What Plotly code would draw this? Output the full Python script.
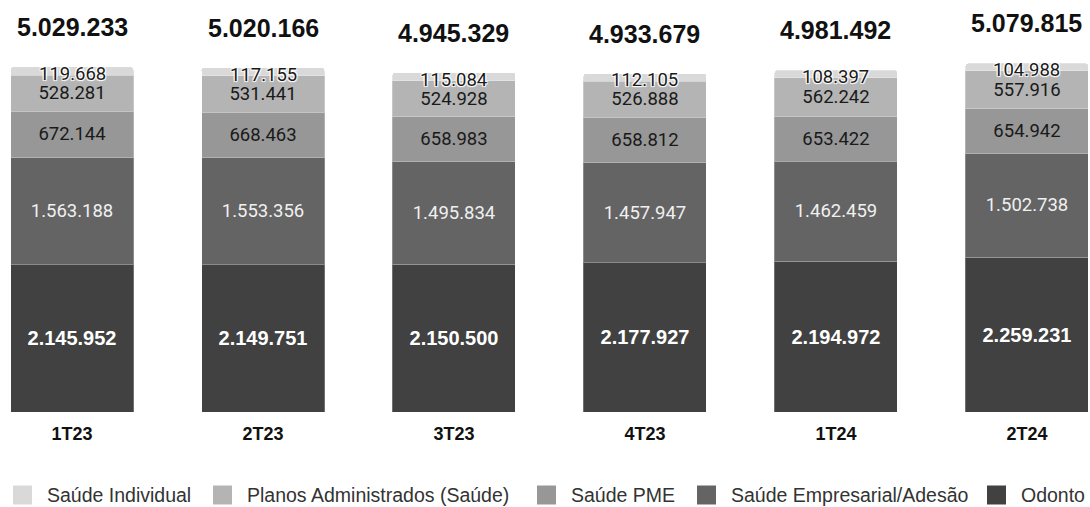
import plotly.graph_objects as go

# Beneficiários por trimestre e por segmento
periodos = ["1T23", "2T23", "3T23", "4T23", "1T24", "2T24"]
odonto = [2145952, 2149751, 2150500, 2177927, 2194972, 2259231]
saude_empresarial = [1563188, 1553356, 1495834, 1457947, 1462459, 1502738]
saude_pme = [672144, 668463, 658983, 658812, 653422, 654942]
planos_administrados = [528281, 531441, 524928, 526888, 562242, 557916]
saude_individual = [119668, 117155, 115084, 112105, 108397, 104988]
totais = [5029233, 5020166, 4945329, 4933679, 4981492, 5079815]

nomes = ["Odonto", "Saúde Empresarial/Adesão", "Saúde PME",
         "Planos Administrados (Saúde)", "Saúde Individual"]
valores_series = [odonto, saude_empresarial, saude_pme, planos_administrados, saude_individual]
cores = ["#414141", "#646464", "#979797", "#b4b4b4", "#d9d9d9"]

halo = ("1px 1px 1px white, -1px -1px 1px white, "
        "1px -1px 1px white, -1px 1px 1px white")
fontes = [
    dict(family="Liberation Sans", size=20, color="white", weight="bold"),
    dict(family="Roboto", size=18.5, color="#f0f0f0"),
    dict(family="Roboto", size=18.5, color="#1a1a1a"),
    dict(family="Roboto", size=18.5, color="#1a1a1a"),
    dict(family="Roboto", size=18.5, color="#1a1a1a", shadow=halo),
]

fig = go.Figure()
for nome, valores, cor, fonte in zip(nomes, valores_series, cores, fontes):
    topo = nome == "Saúde Individual"
    fig.add_trace(go.Bar(
        name=nome,
        x=periodos,
        y=valores,
        marker=dict(color=cor, line=dict(color="rgba(255,255,255,0.25)", width=1)),
        texttemplate="%{y:,}",
        textposition="none" if topo else "inside",
        insidetextanchor="middle",
        constraintext="none",
        textangle=0,
        textfont=fonte,
        hoverinfo="skip",
        showlegend=False,
    ))

# Rótulos do segmento do topo (faixa estreita), centrados na faixa
base_topo = [a + b + c + d for a, b, c, d in
             zip(odonto, saude_empresarial, saude_pme, planos_administrados)]
for p, b, v in zip(periodos, base_topo, saude_individual):
    fig.add_annotation(
        x=p, y=b + v / 2, text=f"{v:,}".replace(",", "."),
        showarrow=False, yanchor="middle", yshift=-3,
        font=fontes[4],
    )

# Totais acima de cada coluna
for p, t in zip(periodos, totais):
    fig.add_annotation(
        x=p, y=t, text=f"{t:,}".replace(",", "."),
        showarrow=False, yanchor="middle", yshift=40,
        font=dict(family="Liberation Sans", size=25, color="#111111", weight="bold"),
    )

# Legenda em linha abaixo do gráfico (ordem: topo -> base)
legenda_x = [13, 213, 537, 697, 987]   # borda esquerda de cada quadrado, px
plot_h = 412
quad = 19
legenda_cy = 495
W = 1090
for x0, nome, cor in zip(legenda_x, nomes[::-1], cores[::-1]):
    fig.add_shape(
        type="rect", xref="paper", yref="paper",
        x0=x0 / W, x1=(x0 + quad) / W,
        y0=(plot_h - (legenda_cy + quad / 2)) / plot_h,
        y1=(plot_h - (legenda_cy - quad / 2)) / plot_h,
        fillcolor=cor, line=dict(width=0),
    )
    fig.add_annotation(
        xref="paper", yref="paper",
        x=(x0 + quad + 13) / W, y=(plot_h - legenda_cy) / plot_h,
        xanchor="left", yanchor="middle", showarrow=False,
        text=nome,
        font=dict(family="Liberation Sans", size=19.5, color="#333333"),
    )

fig.update_layout(
    width=1090, height=507,
    barmode="stack",
    bargap=0.356,
    barcornerradius=3,
    separators=",.",
    paper_bgcolor="white",
    plot_bgcolor="white",
    margin=dict(l=0, r=0, t=0, b=95),
    showlegend=False,
    xaxis=dict(
        range=[-0.377, 5.330],
        showline=False, showgrid=False, zeroline=False, ticks="",
        ticklabelstandoff=9,
        tickfont=dict(family="Liberation Sans", size=18, color="#111111", weight="bold"),
    ),
    yaxis=dict(range=[0, 6005000], visible=False),
)

fig.write_html("out.html")
